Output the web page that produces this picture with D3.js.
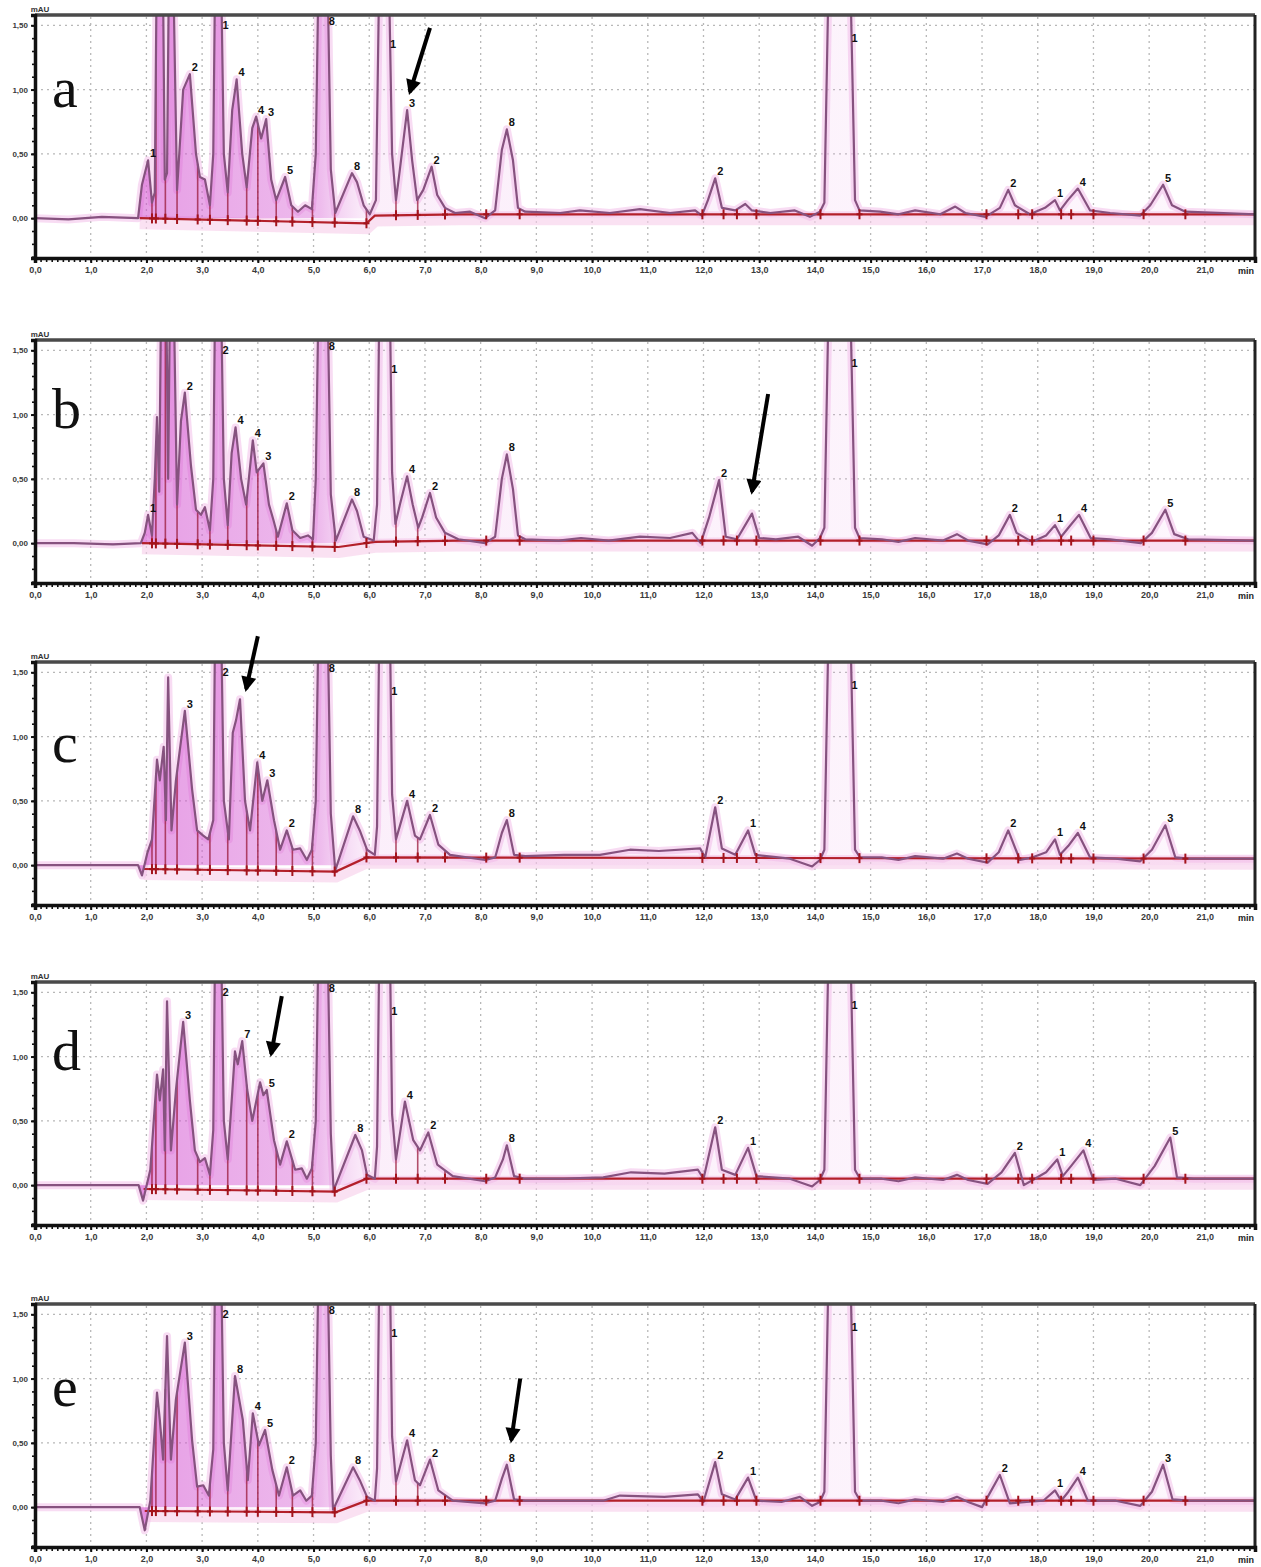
<!DOCTYPE html>
<html>
<head>
<meta charset="utf-8">
<script src="https://cdn.jsdelivr.net/npm/d3@7"></script>
<style>
  body { margin: 0; background: #fff; }
  svg { display: block; }
</style>
</head>
<body>
<script>
// ---------- axis ticks ----------
const xTicks = d3.range(0, 22);                       // retention time, min
const xTickLabels = xTicks.map(v => v.toFixed(1).replace(".", ","));
const yTicks = [0, 0.5, 1.0, 1.5];
const yTickLabels = ["0,00", "0,50", "1,00", "1,50"];
const yUnit = "mAU";
const xUnit = "min";
const panelNames = ["a", "b", "c", "d", "e"];

// ---------- chromatogram traces: [time (min), signal] ----------
const traceA = [
 [0,0],[0.6,-0.01],[1.2,0.01],[1.85,0],[1.92,0.26],[2.03,0.45],[2.1,0.12],
 [2.15,0.2],[2.19,2.2],[2.29,2.2],[2.33,0.3],[2.37,0.35],[2.41,2.2],[2.47,2.2],[2.55,0.22],
 [2.66,1.0],[2.78,1.12],[2.89,0.5],[2.96,0.32],[3.05,0.3],[3.14,0.1],
 [3.2,0.5],[3.24,2.2],[3.33,2.2],[3.39,0.5],[3.46,0.2],[3.54,0.84],[3.62,1.08],[3.72,0.5],[3.8,0.24],
 [3.9,0.7],[3.97,0.79],[4.06,0.62],[4.15,0.77],[4.24,0.3],[4.33,0.14],
 [4.49,0.32],[4.6,0.1],[4.72,0.05],[4.85,0.1],[4.97,0.07],
 [5.04,0.5],[5.1,2.2],[5.24,2.2],[5.31,0.38],[5.39,0.04],
 [5.69,0.35],[5.78,0.28],[5.9,0.1],[6.01,0.03],
 [6.12,0.14],[6.19,2.2],[6.34,2.2],[6.41,0.5],[6.48,0.14],
 [6.55,0.38],[6.68,0.84],[6.77,0.45],[6.86,0.14],[6.97,0.22],[7.12,0.4],[7.22,0.18],[7.36,0.08],[7.54,0.04],
 [7.81,0.05],[8.08,0],[8.26,0.06],[8.38,0.53],[8.47,0.69],[8.58,0.45],[8.67,0.08],[8.8,0.05],
 [9.43,0.04],[9.78,0.06],[10.32,0.04],[10.86,0.07],[11.4,0.04],[11.85,0.06],[11.97,0.02],
 [12.08,0.14],[12.21,0.31],[12.33,0.08],[12.57,0.06],[12.75,0.11],[12.87,0.06],[13.2,0.04],[13.64,0.06],[13.91,0.01],[14.09,0.05],
 [14.17,0.12],[14.26,2.2],[14.62,2.2],[14.72,0.14],[14.8,0.06],
 [15.17,0.05],[15.5,0.03],[15.8,0.06],[16.25,0.03],[16.52,0.09],[16.7,0.04],[17.06,0.01],[17.32,0.08],[17.47,0.22],[17.59,0.1],[17.86,0.03],
 [18.13,0.08],[18.31,0.14],[18.4,0.06],[18.54,0.14],[18.72,0.23],[18.94,0.06],[19.3,0.04],[19.84,0.02],[20.02,0.1],[20.25,0.26],[20.41,0.1],[20.65,0.05],[21.9,0.03]
];
const traceB = [
 [0,0],[0.7,0],[1.4,-0.01],[1.9,0],[1.97,0.08],[2.03,0.22],[2.1,0.06],
 [2.15,0.5],[2.19,0.98],[2.23,0.4],[2.27,2.2],[2.35,2.2],[2.39,0.5],[2.43,2.2],[2.48,2.2],[2.55,0.3],
 [2.62,0.95],[2.69,1.17],[2.8,0.6],[2.89,0.26],[2.98,0.22],[3.05,0.28],[3.14,0.1],
 [3.2,0.5],[3.24,2.2],[3.33,2.2],[3.39,0.5],[3.46,0.14],[3.53,0.7],[3.6,0.9],[3.7,0.5],[3.79,0.3],
 [3.91,0.8],[3.98,0.55],[4.1,0.62],[4.2,0.3],[4.28,0.18],[4.36,0.05],
 [4.52,0.31],[4.62,0.1],[4.76,0.04],[4.9,0.06],[4.99,0.03],
 [5.04,0.5],[5.1,2.2],[5.24,2.2],[5.31,0.38],[5.4,0.02],
 [5.69,0.34],[5.78,0.25],[5.9,0.05],[6.08,0.02],
 [6.14,0.3],[6.19,2.2],[6.36,2.2],[6.41,0.55],[6.47,0.15],
 [6.55,0.3],[6.68,0.52],[6.78,0.3],[6.88,0.12],[6.95,0.2],[7.09,0.39],[7.2,0.2],[7.36,0.08],[7.6,0.03],
 [8.08,0],[8.26,0.05],[8.38,0.5],[8.47,0.69],[8.58,0.42],[8.67,0.06],[8.8,0.03],
 [9.4,0.02],[9.8,0.04],[10.3,0.02],[10.86,0.05],[11.4,0.04],[11.8,0.08],[11.95,0.0],
 [12.1,0.2],[12.28,0.49],[12.4,0.05],[12.6,0.03],[12.87,0.23],[13.0,0.04],[13.3,0.03],[13.7,0.05],[13.95,-0.02],[14.09,0.04],
 [14.17,0.12],[14.26,2.2],[14.62,2.2],[14.72,0.12],[14.8,0.04],
 [15.2,0.03],[15.5,0.01],[15.8,0.04],[16.3,0.02],[16.55,0.07],[16.75,0.02],[17.1,-0.01],[17.3,0.06],[17.5,0.22],[17.62,0.08],[17.9,0.01],
 [18.15,0.06],[18.31,0.14],[18.42,0.05],[18.55,0.12],[18.74,0.22],[18.95,0.04],[19.3,0.03],[19.85,0.0],[20.05,0.08],[20.29,0.26],[20.45,0.07],[20.7,0.03],[21.9,0.02]
];
const traceC = [
 [0,0],[0.7,0],[1.4,0],[1.85,0],[1.92,-0.08],[2.02,0.1],[2.1,0.2],
 [2.19,0.82],[2.24,0.66],[2.31,0.92],[2.35,0.35],[2.39,1.46],[2.45,0.27],[2.53,0.66],[2.69,1.2],
 [2.82,0.59],[2.91,0.27],[3.02,0.23],[3.11,0.2],[3.2,0.35],[3.24,2.2],[3.33,2.2],[3.39,0.5],[3.48,0.2],
 [3.55,1.03],[3.61,1.13],[3.68,1.29],[3.77,0.5],[3.86,0.27],[3.99,0.8],[4.08,0.5],[4.17,0.66],[4.29,0.35],[4.4,0.12],
 [4.52,0.27],[4.63,0.12],[4.76,0.13],[4.88,0.04],[4.97,0.12],
 [5.04,0.5],[5.1,2.2],[5.24,2.2],[5.31,0.4],[5.39,-0.04],
 [5.71,0.38],[5.83,0.27],[5.96,0.12],[6.1,0.08],
 [6.14,0.3],[6.19,2.2],[6.36,2.2],[6.41,0.55],[6.48,0.2],
 [6.68,0.5],[6.82,0.23],[6.91,0.2],[7.09,0.39],[7.24,0.16],[7.45,0.08],
 [8.08,0.04],[8.26,0.06],[8.38,0.25],[8.47,0.35],[8.6,0.08],[8.8,0.07],
 [9.5,0.08],[10.14,0.08],[10.68,0.12],[11.2,0.11],[11.94,0.13],[12.03,0.06],
 [12.21,0.45],[12.33,0.13],[12.57,0.08],[12.8,0.27],[12.93,0.08],[13.55,0.05],[13.95,-0.01],[14.09,0.04],
 [14.17,0.12],[14.26,2.2],[14.62,2.2],[14.72,0.12],[14.81,0.06],
 [15.2,0.06],[15.5,0.04],[15.8,0.07],[16.3,0.05],[16.55,0.09],[16.75,0.05],[17.1,0.02],[17.3,0.1],[17.47,0.27],[17.68,0.04],[17.9,0.06],
 [18.15,0.1],[18.31,0.2],[18.4,0.08],[18.55,0.15],[18.72,0.25],[18.94,0.06],[19.4,0.05],[19.84,0.03],[20.05,0.12],[20.29,0.31],[20.47,0.06],[20.7,0.05],[21.9,0.05]
];
const traceD = [
 [0,0],[0.7,0],[1.4,0],[1.86,0],[1.94,-0.12],[2.07,0.12],
 [2.19,0.86],[2.24,0.66],[2.3,0.9],[2.33,0.27],[2.37,1.43],[2.44,0.27],[2.53,0.74],[2.66,1.27],
 [2.78,0.66],[2.87,0.27],[2.96,0.18],[3.05,0.21],[3.14,0.08],[3.2,0.43],[3.24,2.2],[3.33,2.2],[3.39,0.5],[3.46,0.2],
 [3.59,1.04],[3.64,0.94],[3.72,1.12],[3.81,0.74],[3.9,0.5],[4.04,0.8],[4.1,0.7],[4.16,0.74],[4.29,0.35],[4.4,0.16],
 [4.52,0.34],[4.67,0.12],[4.79,0.13],[4.88,0.05],[4.97,0.13],
 [5.04,0.5],[5.1,2.2],[5.24,2.2],[5.31,0.4],[5.36,-0.04],
 [5.75,0.39],[5.87,0.27],[5.96,0.08],[6.1,0.05],
 [6.14,0.3],[6.19,2.2],[6.36,2.2],[6.41,0.55],[6.48,0.2],
 [6.64,0.65],[6.79,0.35],[6.91,0.27],[7.06,0.41],[7.22,0.16],[7.5,0.07],
 [8.08,0.03],[8.26,0.06],[8.4,0.2],[8.47,0.31],[8.6,0.07],[8.8,0.05],
 [9.5,0.05],[10.2,0.06],[10.7,0.1],[11.3,0.09],[11.9,0.12],[12.0,0.05],
 [12.21,0.45],[12.33,0.12],[12.57,0.08],[12.8,0.29],[12.95,0.07],[13.55,0.05],[13.95,-0.01],[14.09,0.04],
 [14.17,0.12],[14.26,2.2],[14.62,2.2],[14.72,0.12],[14.81,0.05],
 [15.2,0.05],[15.5,0.03],[15.8,0.06],[16.3,0.04],[16.55,0.08],[16.75,0.04],[17.1,0.01],[17.35,0.1],[17.59,0.25],[17.75,0.0],[17.95,0.05],
 [18.15,0.1],[18.35,0.2],[18.45,0.07],[18.6,0.15],[18.82,0.27],[19.0,0.04],[19.4,0.05],[19.84,0.0],[20.1,0.15],[20.38,0.37],[20.5,0.06],[20.8,0.05],[21.9,0.05]
];
const traceE = [
 [0,0],[0.7,0],[1.4,0],[1.88,0],[1.97,-0.18],[2.07,0.05],
 [2.19,0.89],[2.24,0.68],[2.3,0.37],[2.37,1.33],[2.44,0.37],[2.53,0.84],[2.69,1.28],
 [2.82,0.52],[2.91,0.16],[3.02,0.17],[3.12,0.09],[3.2,0.45],[3.24,2.2],[3.33,2.2],[3.39,0.5],[3.46,0.13],
 [3.59,1.02],[3.73,0.68],[3.82,0.21],[3.91,0.73],[4.02,0.48],[4.13,0.6],[4.26,0.29],[4.38,0.09],
 [4.52,0.31],[4.63,0.09],[4.76,0.13],[4.87,0.05],[4.97,0.09],
 [5.04,0.5],[5.1,2.2],[5.24,2.2],[5.31,0.4],[5.35,-0.02],
 [5.71,0.31],[5.83,0.21],[5.96,0.08],[6.1,0.05],
 [6.14,0.3],[6.19,2.2],[6.36,2.2],[6.41,0.55],[6.48,0.2],
 [6.68,0.52],[6.82,0.21],[6.91,0.17],[7.09,0.37],[7.24,0.13],[7.5,0.05],
 [8.08,0.03],[8.26,0.05],[8.38,0.22],[8.47,0.33],[8.6,0.06],[8.8,0.05],
 [9.5,0.05],[10.2,0.05],[10.5,0.09],[11.3,0.08],[11.9,0.1],[12.0,0.04],
 [12.21,0.35],[12.33,0.1],[12.57,0.06],[12.8,0.23],[12.95,0.05],[13.4,0.04],[13.73,0.08],[13.95,0.01],[14.09,0.04],
 [14.17,0.12],[14.26,2.2],[14.62,2.2],[14.72,0.12],[14.81,0.05],
 [15.2,0.05],[15.5,0.03],[15.8,0.06],[16.3,0.04],[16.55,0.08],[16.75,0.04],[17.0,0.0],[17.32,0.25],[17.5,0.03],[17.8,0.04],
 [18.1,0.05],[18.31,0.13],[18.42,0.05],[18.55,0.12],[18.72,0.23],[18.9,0.05],[19.4,0.05],[19.84,0.01],[20.05,0.12],[20.25,0.33],[20.42,0.06],[20.7,0.05],[21.9,0.05]
];

// ---------- integration baselines: [time, signal] ----------
const baseA = [[1.88,0],[5.95,-0.04],[6.1,0.02],[7.6,0.03],[21.9,0.03]];
const baseB = [[1.92,0],[5.45,-0.03],[6.1,0.01],[7.6,0.02],[21.9,0.02]];
const baseC = [[1.95,-0.03],[5.4,-0.05],[5.95,0.06],[21.9,0.05]];
const baseD = [[1.95,-0.03],[5.4,-0.05],[5.95,0.05],[21.9,0.05]];
const baseE = [[1.97,-0.03],[5.4,-0.04],[5.95,0.05],[21.9,0.05]];

// peak start/end times marked on the integration baseline
const cutTimes = [2.1,2.17,2.34,2.55,2.92,3.14,3.46,3.8,4.0,4.33,4.62,4.98,5.38,5.95,6.48,6.87,7.36,
  8.1,8.7,11.98,12.36,12.6,12.95,14.1,14.8,17.08,17.65,17.9,18.42,18.6,19.0,19.9,20.65];

// ---------- peak tags: [time, signal, tag] ----------
const labelsA = [[2.03,0.45,"1"],[2.78,1.12,"2"],[3.33,1.45,"1"],[3.62,1.08,"4"],[3.97,0.79,"4"],[4.15,0.77,"3"],[4.49,0.32,"5"],
  [5.24,1.48,"8"],[5.69,0.35,"8"],[6.34,1.3,"1"],[6.68,0.84,"3"],[7.12,0.4,"2"],[8.47,0.69,"8"],[12.21,0.31,"2"],
  [14.62,1.35,"1"],[17.47,0.22,"2"],[18.31,0.14,"1"],[18.72,0.23,"4"],[20.25,0.26,"5"]];
const labelsB = [[2.03,0.22,"1"],[2.69,1.17,"2"],[3.33,1.45,"2"],[3.6,0.9,"4"],[3.91,0.8,"4"],[4.1,0.62,"3"],[4.52,0.31,"2"],
  [5.24,1.48,"8"],[5.69,0.34,"8"],[6.36,1.3,"1"],[6.68,0.52,"4"],[7.09,0.39,"2"],[8.47,0.69,"8"],[12.28,0.49,"2"],
  [14.62,1.35,"1"],[17.5,0.22,"2"],[18.31,0.14,"1"],[18.74,0.22,"4"],[20.29,0.26,"5"]];
const labelsC = [[2.69,1.2,"3"],[3.33,1.45,"2"],[3.99,0.8,"4"],[4.17,0.66,"3"],[4.52,0.27,"2"],
  [5.24,1.48,"8"],[5.71,0.38,"8"],[6.36,1.3,"1"],[6.68,0.5,"4"],[7.09,0.39,"2"],[8.47,0.35,"8"],[12.21,0.45,"2"],[12.8,0.27,"1"],
  [14.62,1.35,"1"],[17.47,0.27,"2"],[18.31,0.2,"1"],[18.72,0.25,"4"],[20.29,0.31,"3"]];
const labelsD = [[2.66,1.27,"3"],[3.33,1.45,"2"],[3.72,1.12,"7"],[4.16,0.74,"5"],[4.52,0.34,"2"],
  [5.24,1.48,"8"],[5.75,0.39,"8"],[6.36,1.3,"1"],[6.64,0.65,"4"],[7.06,0.41,"2"],[8.47,0.31,"8"],[12.21,0.45,"2"],[12.8,0.29,"1"],
  [14.62,1.35,"1"],[17.59,0.25,"2"],[18.35,0.2,"1"],[18.82,0.27,"4"],[20.38,0.37,"5"]];
const labelsE = [[2.69,1.28,"3"],[3.33,1.45,"2"],[3.59,1.02,"8"],[3.91,0.73,"4"],[4.13,0.6,"5"],[4.52,0.31,"2"],
  [5.24,1.48,"8"],[5.71,0.31,"8"],[6.36,1.3,"1"],[6.68,0.52,"4"],[7.09,0.37,"2"],[8.47,0.33,"8"],[12.21,0.35,"2"],[12.8,0.23,"1"],
  [14.62,1.35,"1"],[17.32,0.25,"2"],[18.31,0.13,"1"],[18.72,0.23,"4"],[20.25,0.33,"3"]];

// ---------- arrows: [[tail time, tail signal], [tip time, tip signal]] ----------
const arrowA = [[7.09,1.48],[6.73,0.98]];
const arrowB = [[13.16,1.16],[12.87,0.40]];
const arrowC = [[4.0,1.78],[3.79,1.37]];
const arrowD = [[4.43,1.47],[4.24,1.02]];
const arrowE = [[8.71,1.0],[8.55,0.52]];

// ---------- layout ----------
const W = 1261, H = 1567;
const panelTops = [15, 340, 662, 982, 1304];
const letterDy = [92, 88, 100, 88, 102];
const PH = 243;

const panels = [
  { trace: traceA, base: baseA, labels: labelsA, arrow: arrowA },
  { trace: traceB, base: baseB, labels: labelsB, arrow: arrowB },
  { trace: traceC, base: baseC, labels: labelsC, arrow: arrowC },
  { trace: traceD, base: baseD, labels: labelsD, arrow: arrowD },
  { trace: traceE, base: baseE, labels: labelsE, arrow: arrowE }
];

const svg = d3.select("body").append("svg").attr("width", W).attr("height", H)
  .style("font-family", "'Liberation Sans', Arial, sans-serif");

const x = d3.scaleLinear().domain([0, 21.9]).range([35, 1255]);
const y = d3.scaleLinear().domain([-0.31, 1.58]).range([PH, 0]);

const defs = svg.append("defs");
// peak shading: saturated in the early, crowded region, fading toward later peaks
const grad = defs.append("linearGradient").attr("id", "peakFill")
  .attr("gradientUnits", "userSpaceOnUse")
  .attr("x1", x(1.9)).attr("x2", x(21.9)).attr("y1", 0).attr("y2", 0);
grad.append("stop").attr("offset", 0).attr("stop-color", "#d24fd0").attr("stop-opacity", 0.55);
grad.append("stop").attr("offset", 0.16).attr("stop-color", "#d866d6").attr("stop-opacity", 0.45);
grad.append("stop").attr("offset", 0.205).attr("stop-color", "#eaa6e6").attr("stop-opacity", 0.18);
grad.append("stop").attr("offset", 1).attr("stop-color", "#f0b8ec").attr("stop-opacity", 0.12);

defs.append("marker").attr("id", "arrowHead")
  .attr("viewBox", "0 0 10 10").attr("refX", 8).attr("refY", 5)
  .attr("markerWidth", 4.4).attr("markerHeight", 3.8).attr("orient", "auto")
  .attr("markerUnits", "strokeWidth")
  .append("path").attr("d", "M0,0 L10,5 L0,10 Z").attr("fill", "#000");

const line = d3.line().x(d => x(d[0])).y(d => y(d[1]));
const area = d3.area().x(d => x(d[0])).y0(y(0)).y1(d => y(d[1]));
const bis = d3.bisector(d => d[0]).left;
function valueAt(series, t) {
  const i = Math.max(1, Math.min(series.length - 1, bis(series, t)));
  const a = series[i - 1], b = series[i];
  const k = (t - a[0]) / (b[0] - a[0]);
  return a[1] + k * (b[1] - a[1]);
}

panels.forEach((p, i) => {
  const g = svg.append("g").attr("transform", `translate(0,${panelTops[i]})`);
  const cid = "clip" + i;
  g.append("clipPath").attr("id", cid).append("rect")
    .attr("x", x(0)).attr("y", 0).attr("width", x(21.9) - x(0)).attr("height", PH);

  // grid
  const grid = g.append("g").attr("stroke", "#b8b8b8").attr("stroke-width", 1.3)
    .attr("stroke-dasharray", "2,4");
  grid.selectAll("line.v").data(xTicks.slice(1)).join("line")
    .attr("x1", d => x(d)).attr("x2", d => x(d)).attr("y1", 2).attr("y2", PH);
  grid.selectAll("line.h").data(yTicks.slice(1)).join("line")
    .attr("x1", x(0)).attr("x2", x(21.9)).attr("y1", d => y(d)).attr("y2", d => y(d));

  const plot = g.append("g").attr("clip-path", `url(#${cid})`);

  // soft pink halo along the integration baseline and the trace
  plot.append("path").datum(p.base).attr("d", line)
    .attr("fill", "none").attr("stroke", "#f6cdea").attr("stroke-width", 14)
    .attr("stroke-opacity", 0.6).attr("transform", "translate(0,4)");
  plot.append("path").datum(p.trace).attr("d", line)
    .attr("fill", "none").attr("stroke", "#f2c0ea").attr("stroke-width", 8)
    .attr("stroke-opacity", 0.55).attr("stroke-linejoin", "round");

  // shaded peak areas
  plot.append("path").datum(p.trace).attr("d", area).attr("fill", "url(#peakFill)");

  // drop lines from the integration baseline up to the trace
  plot.selectAll("line.drop").data(cutTimes.filter(t => t < 7.5)).join("line")
    .attr("x1", t => x(t)).attr("x2", t => x(t))
    .attr("y1", t => y(valueAt(p.base, t))).attr("y2", t => y(valueAt(p.trace, t)))
    .attr("stroke", "#9a1a3a").attr("stroke-width", 1.6).attr("stroke-opacity", 0.75);

  // integration baseline
  plot.append("path").datum(p.base).attr("d", line)
    .attr("fill", "none").attr("stroke", "#b3202a").attr("stroke-width", 2.2);

  // trace
  plot.append("path").datum(p.trace).attr("d", line)
    .attr("fill", "none").attr("stroke", "#86527f").attr("stroke-width", 2.2)
    .attr("stroke-linejoin", "round");

  // peak start/end markers
  const mk = plot.append("g").attr("stroke", "#a3141c").attr("stroke-width", 2);
  mk.selectAll("line.mv").data(cutTimes).join("line")
    .attr("x1", t => x(t)).attr("x2", t => x(t))
    .attr("y1", t => y(valueAt(p.base, t)) - 5).attr("y2", t => y(valueAt(p.base, t)) + 5);
  mk.selectAll("line.mh").data(cutTimes).join("line")
    .attr("x1", t => x(t) - 3).attr("x2", t => x(t) + 3)
    .attr("y1", t => y(valueAt(p.base, t))).attr("y2", t => y(valueAt(p.base, t)));

  // peak tags
  g.append("g").selectAll("text").data(p.labels).join("text")
    .attr("x", d => x(d[0]) + 5).attr("y", d => y(d[1]) - 3)
    .attr("font-size", 11).attr("font-weight", "bold").attr("fill", "#111")
    .attr("text-anchor", "middle").text(d => d[2]);

  // frame
  g.append("line").attr("x1", x(0)).attr("x2", x(21.9)).attr("y1", 0).attr("y2", 0)
    .attr("stroke", "#4a4a4a").attr("stroke-width", 3.5);
  g.append("line").attr("x1", x(21.9)).attr("x2", x(21.9)).attr("y1", 0).attr("y2", PH)
    .attr("stroke", "#222").attr("stroke-width", 3);

  // x axis
  const xMinor = g.append("g").attr("transform", `translate(0,${PH})`)
    .call(d3.axisBottom(x).tickValues(d3.range(0, 219).map(k => k / 10)).tickSize(4).tickFormat(""));
  xMinor.select(".domain").remove();
  xMinor.selectAll("line").attr("stroke", "#111").attr("stroke-width", 1.6);
  const xAx = g.append("g").attr("transform", `translate(0,${PH})`)
    .call(d3.axisBottom(x).tickValues(xTicks).tickSize(5).tickPadding(4)
      .tickFormat((d, k) => xTickLabels[k]));
  xAx.select(".domain").attr("stroke", "#111").attr("stroke-width", 3.5);
  xAx.selectAll("line").attr("stroke", "#111").attr("stroke-width", 2);
  xAx.selectAll("text").attr("font-size", 9).attr("font-weight", "bold").attr("fill", "#3a3a3a")
    .attr("font-family", "'Liberation Sans', Arial, sans-serif");
  g.append("text").attr("x", 1246).attr("y", PH + 16).attr("text-anchor", "middle")
    .attr("font-size", 9).attr("font-weight", "bold").attr("fill", "#222").text(xUnit);

  // y axis
  const yMinor = g.append("g").attr("transform", `translate(${x(0)},0)`)
    .call(d3.axisLeft(y).tickValues(d3.range(-3, 16).map(k => k / 10)).tickSize(3).tickFormat(""));
  yMinor.select(".domain").remove();
  yMinor.selectAll("line").attr("stroke", "#111").attr("stroke-width", 1.6);
  const yAx = g.append("g").attr("transform", `translate(${x(0)},0)`)
    .call(d3.axisLeft(y).tickValues(yTicks).tickSize(4).tickPadding(3)
      .tickFormat((d, k) => yTickLabels[k]));
  yAx.select(".domain").attr("stroke", "#111").attr("stroke-width", 3.5);
  yAx.selectAll("line").attr("stroke", "#111").attr("stroke-width", 2);
  yAx.selectAll("text").attr("font-size", 8).attr("font-weight", "bold").attr("fill", "#3a3a3a")
    .attr("font-family", "'Liberation Sans', Arial, sans-serif");
  g.append("text").attr("x", x(0) + 5).attr("y", -3).attr("text-anchor", "middle")
    .attr("font-size", 8).attr("font-weight", "bold").attr("fill", "#333").text(yUnit);

  // panel letter
  g.append("text").attr("x", 52).attr("y", letterDy[i])
    .attr("font-family", "'Liberation Serif', 'Times New Roman', serif")
    .attr("font-size", 58).attr("fill", "#111").text(panelNames[i]);

  // arrow pointing to the peak of interest
  g.append("line")
    .attr("x1", x(p.arrow[0][0])).attr("y1", y(p.arrow[0][1]))
    .attr("x2", x(p.arrow[1][0])).attr("y2", y(p.arrow[1][1]))
    .attr("stroke", "#000").attr("stroke-width", 4)
    .attr("marker-end", "url(#arrowHead)");
});
</script>
</body>
</html>
